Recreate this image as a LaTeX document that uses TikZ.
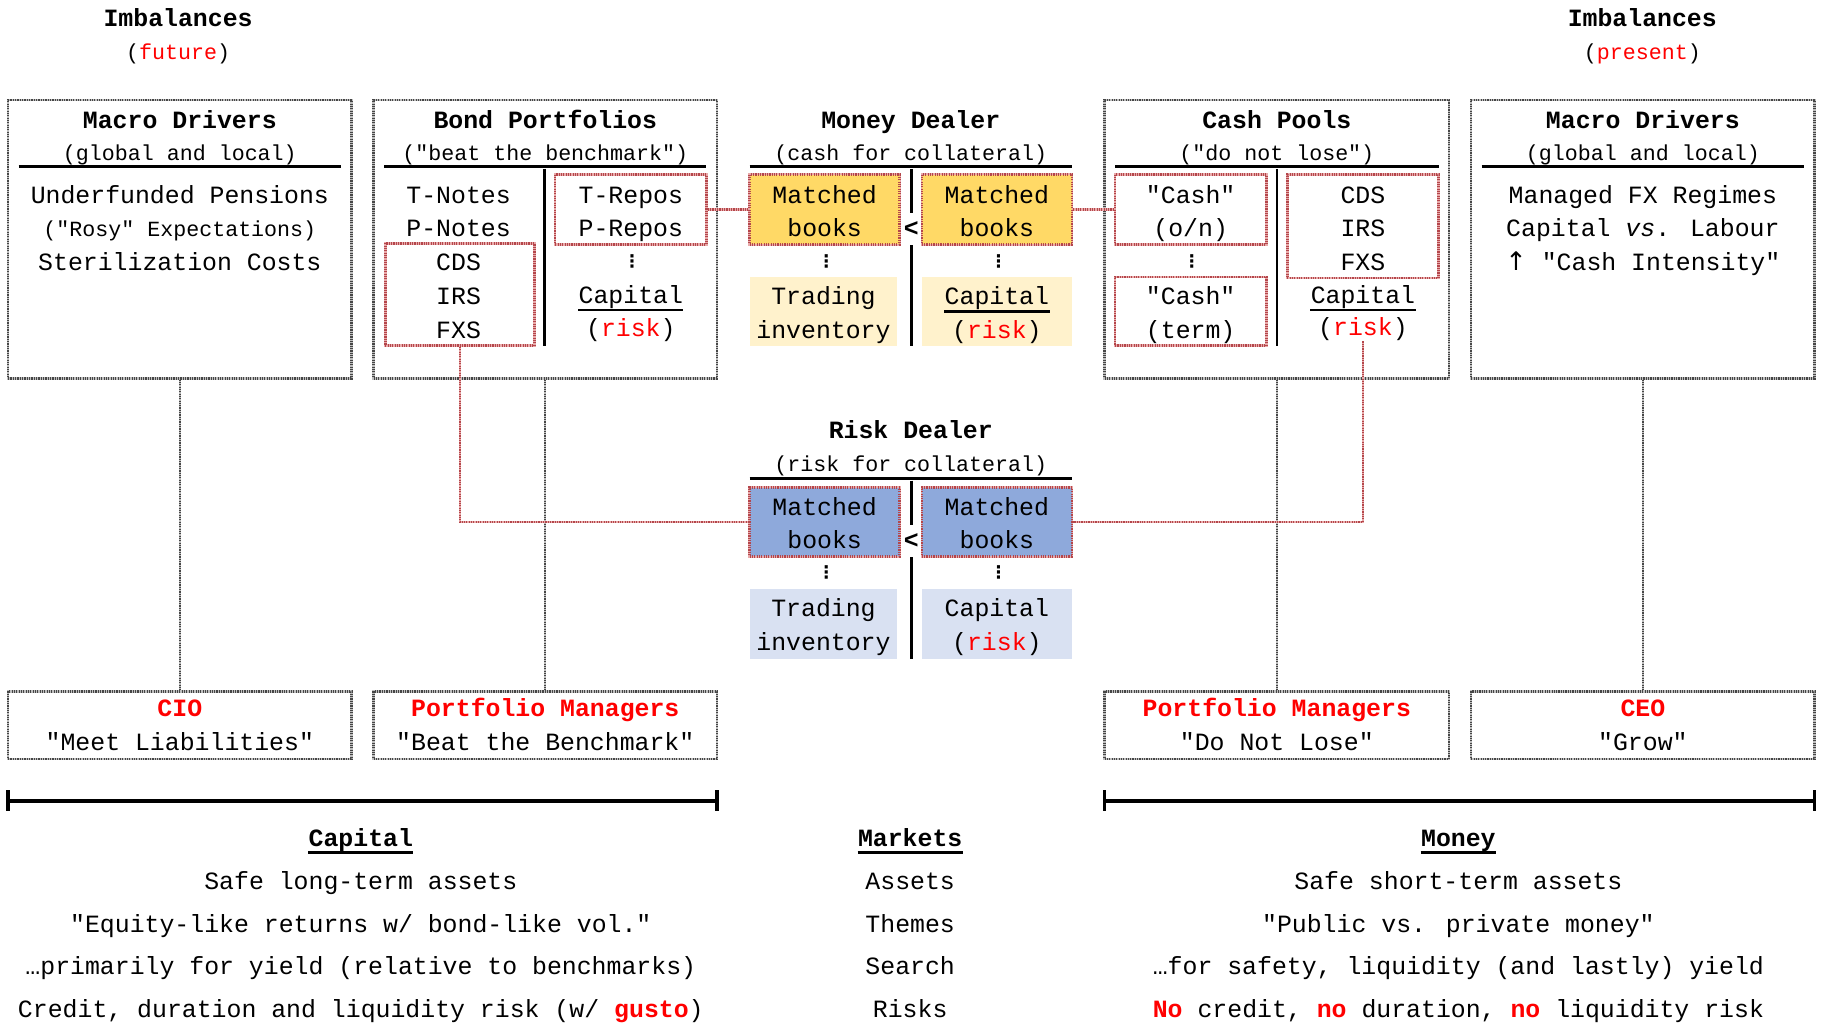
\documentclass[tikz,border=0pt]{standalone}
\usepackage{fontspec}
\setmainfont{Liberation Mono}[Ligatures=TeXOff]
\newfontfamily\dejavu{DejaVu Sans}
\definecolor{ttred}{RGB}{255,0,0}
\definecolor{bxred}{RGB}{180,70,75}
\definecolor{bxpink}{RGB}{232,170,170}
\definecolor{gdark}{RGB}{70,70,70}
\definecolor{glight}{RGB}{190,190,190}
\definecolor{ydark}{RGB}{255,217,102}
\definecolor{ylight}{RGB}{255,242,204}
\definecolor{bdark}{RGB}{142,169,219}
\definecolor{blight}{RGB}{217,225,242}
\newcommand\mfnt{\fontsize{10.67}{13}\selectfont}
\newcommand\sfnt{\fontsize{9.3}{11}\selectfont}
\newcommand\rd[1]{\textcolor{ttred}{#1}}
\newcommand\rb[1]{\textcolor{ttred}{\bfseries #1}}
\tikzset{
  txt/.style={anchor=base, inner sep=0pt, font=\mfnt},
  sub/.style={anchor=base, inner sep=0pt, font=\sfnt},
  ttl/.style={anchor=base, inner sep=0pt, font=\mfnt\bfseries},
  rttl/.style={ttl, text=ttred},
  vdot/.style={inner sep=0pt, font=\dejavu\bfseries\fontsize{7.5}{8}\selectfont},
  lt/.style={inner xsep=0pt, inner ysep=3.5pt, font=\mfnt\bfseries},
  sz/.style 2 args={minimum width=#1*0.5pt, minimum height=#2*0.5pt},
  gbox/.style={draw=gdark, line width=1.1pt, dash pattern=on 0.5pt off 0.5pt,
    preaction={draw=glight, line width=1.1pt, solid}, inner sep=0pt},
  rbox/.style={draw=bxred, line width=1.1pt, dash pattern=on 0.5pt off 0.5pt,
    preaction={draw=bxpink, line width=1.1pt, solid}, inner sep=0pt},
  fbox/.style={inner sep=0pt},
  gline/.style={draw=gdark, line width=0.9pt, dash pattern=on 0.5pt off 0.5pt,
    preaction={draw=glight, line width=0.9pt, solid}},
  rline/.style={draw=bxred, line width=0.9pt, dash pattern=on 0.5pt off 0.5pt,
    preaction={draw=bxpink, line width=0.9pt, solid}},
  rulel/.style={line width=1.3pt},
  divl/.style={line width=1.1pt},
  uline/.style={line width=1pt},
  brk/.style={line width=1.5pt}
}
\begin{document}
\begin{tikzpicture}[x=0.5pt,y=-0.5pt]
\useasboundingbox (0,0) rectangle (1568,879);

% ---------- headers
\node[ttl] (imbL) at (153,22.5) {Imbalances};
\node[sub] (futL) at (153,51) {(\rd{future})};
\node[ttl] (imbR) at (1411,22.5) {Imbalances};
\node[sub] (preR) at (1411,51) {(\rd{present})};

% ---------- big boxes
\node[gbox, sz={295}{239}] (macroL) at (154.5,205.5) {};
\node[gbox, sz={295}{239}] (bond)   at (468.5,205.5) {};
\node[gbox, sz={296}{239}] (cash)   at (1097,205.5) {};
\node[gbox, sz={295}{239}] (macroR) at (1411.5,205.5) {};

% ---------- bottom role boxes
\node[gbox, sz={295}{58}] (cio) at (154.5,623) {};
\node[gbox, sz={295}{58}] (pmA) at (468.5,623) {};
\node[gbox, sz={296}{58}] (pmB) at (1097,623) {};
\node[gbox, sz={295}{58}] (ceo) at (1411.5,623) {};

% ---------- gray connectors
\draw[gline] (macroL.south) -- (cio.north);
\draw[gline] (bond.south) -- (pmA.north);
\draw[gline] (cash.south) -- (pmB.north);
\draw[gline] (macroR.south) -- (ceo.north);

% ---------- Macro Drivers (left)
\node[ttl] (mlT) at (154.5,110) {Macro Drivers};
\node[sub] (mlS) at (154.5,137.5) {(global and local)};
\draw[rulel] (16,143) -- (293,143);
\node[txt] (ml1) at (154.5,174.5) {Underfunded Pensions};
\node[sub] (ml2) at (154.5,203.5) {("Rosy" Expectations)};
\node[txt] (ml3) at (154.5,232.5) {Sterilization Costs};

% ---------- Bond Portfolios
\node[ttl] (bpT) at (468.5,110) {Bond Portfolios};
\node[sub] (bpS) at (468.5,137.5) {("beat the benchmark")};
\draw[rulel] (330,143) -- (607,143);
\draw[divl] (468,145) -- (468,297);
\node[rbox, sz={130}{60}] (bRepo) at (542,180) {};
\node[rbox, sz={128}{88}] (bCDS) at (395,253) {};
\node[txt] (bp1) at (394,174.5) {T-Notes};
\node[txt] (bp2) at (394,203.5) {P-Notes};
\node[txt] (bp3) at (394,232.5) {CDS};
\node[txt] (bp4) at (394,261.5) {IRS};
\node[txt] (bp5) at (394,290.5) {FXS};
\node[txt] (bp6) at (542,174.5) {T-Repos};
\node[txt] (bp7) at (542,203.5) {P-Repos};
\node[vdot] (bp8) at (543,224.5) {⋮};
\node[txt] (bCap) at (542,260.5) {Capital};
\draw[uline] ([yshift=-3pt]bCap.base west) -- ([yshift=-3pt]bCap.base east);
\node[txt] (bRisk) at (542,289.5) {(\rd{risk})};

% ---------- Money Dealer
\node[ttl] (mdT) at (782.5,110) {Money Dealer};
\node[sub] (mdS) at (782.5,137.5) {(cash for collateral)};
\draw[rulel] (644,143) -- (921,143);
\node[lt] (ltA) at (783,197) {<};
\draw[divl] (783,145) -- (ltA.north);
\draw[divl] (ltA.south) -- (783,297);
\node[rbox, fill=ydark, sz={129}{60}] (mdL) at (708.5,180) {};
\node[rbox, fill=ydark, sz={129}{60}] (mdR) at (856.5,180) {};
\node[fbox, fill=ylight, sz={127}{59}] (mdTI) at (707.5,267.5) {};
\node[fbox, fill=ylight, sz={129}{59}] (mdCp) at (856.5,267.5) {};
\node[txt] (md1) at (708.5,174.5) {Matched};
\node[txt] (md2) at (708.5,203.5) {books};
\node[txt] (md3) at (856.5,174.5) {Matched};
\node[txt] (md4) at (856.5,203.5) {books};
\node[vdot] (md5) at (710,224.5) {⋮};
\node[vdot] (md6) at (858,224.5) {⋮};
\node[txt] (md7) at (707.5,261.5) {Trading};
\node[txt] (md8) at (707.5,290.5) {inventory};
\node[txt] (mdCap) at (856.5,261.5) {Capital};
\draw[uline] ([yshift=-3pt]mdCap.base west) -- ([yshift=-3pt]mdCap.base east);
\node[txt] (md9) at (856.5,290.5) {(\rd{risk})};

% ---------- Cash Pools
\node[ttl] (cpT) at (1097,110) {Cash Pools};
\node[sub] (cpS) at (1097,137.5) {("do not lose")};
\draw[rulel] (958,143) -- (1236,143);
\draw[divl] (1097,145) -- (1097,297);
\node[rbox, sz={130}{60}] (cON) at (1023,180) {};
\node[rbox, sz={130}{59}] (cTerm) at (1023,267.5) {};
\node[rbox, sz={130}{89}] (cCDS) at (1171,194.5) {};
\node[txt] (cp1) at (1023,174.5) {"Cash"};
\node[txt] (cp2) at (1023,203.5) {(o/n)};
\node[vdot] (cp3) at (1024,224.5) {⋮};
\node[txt] (cp4) at (1023,261.5) {"Cash"};
\node[txt] (cp5) at (1023,290.5) {(term)};
\node[txt] (cp6) at (1171,174.5) {CDS};
\node[txt] (cp7) at (1171,203.5) {IRS};
\node[txt] (cp8) at (1171,232.5) {FXS};
\node[txt] (cCap) at (1171,260.5) {Capital};
\draw[uline] ([yshift=-3pt]cCap.base west) -- ([yshift=-3pt]cCap.base east);
\node[txt] (cRisk) at (1171,288.5) {(\rd{risk})};

% ---------- Macro Drivers (right)
\node[ttl] (mrT) at (1411.5,110) {Macro Drivers};
\node[sub] (mrS) at (1411.5,137.5) {(global and local)};
\draw[rulel] (1273,143) -- (1550,143);
\node[txt] (mr1) at (1411.5,174.5) {Managed FX Regimes};
\node[txt] (mr2) at (1411.5,203.5) {Capital \textit{vs}. Labour};
\node[txt] (mr3) at (1411.5,232.5) {{\dejavu\fontsize{11}{13}\selectfont ↑} "Cash Intensity"};

% ---------- Risk Dealer
\node[ttl] (rdT) at (782.5,377) {Risk Dealer};
\node[sub] (rdS) at (782.5,405.5) {(risk for collateral)};
\draw[rulel] (644,411) -- (921,411);
\node[lt] (ltB) at (783,465) {<};
\draw[divl] (783,413) -- (ltB.north);
\draw[divl] (ltB.south) -- (783,566);
\node[rbox, fill=bdark, sz={129}{59}] (rdL) at (708.5,448.5) {};
\node[rbox, fill=bdark, sz={129}{59}] (rdR) at (856.5,448.5) {};
\node[fbox, fill=blight, sz={127}{60}] (rdTI) at (707.5,536) {};
\node[fbox, fill=blight, sz={129}{60}] (rdCp) at (856.5,536) {};
\node[txt] (rd1) at (708.5,443) {Matched};
\node[txt] (rd2) at (708.5,471.5) {books};
\node[txt] (rd3) at (856.5,443) {Matched};
\node[txt] (rd4) at (856.5,471.5) {books};
\node[vdot] (rd5) at (710,491.5) {⋮};
\node[vdot] (rd6) at (858,491.5) {⋮};
\node[txt] (rd7) at (707.5,529.5) {Trading};
\node[txt] (rd8) at (707.5,558.5) {inventory};
\node[txt] (rd9) at (856.5,529.5) {Capital};
\node[txt] (rd10) at (856.5,558.5) {(\rd{risk})};

% ---------- red connectors
\draw[rline] (bRepo.east) -- (mdL.west);
\draw[rline] (mdR.east) -- (cON.west);
\draw[rline] (bCDS.south) |- (rdL.west);
\draw[rline] (cRisk.south) |- (rdR.east);

% ---------- role box texts
\node[rttl] (cio1) at (154.5,615.5) {CIO};
\node[txt] (cio2) at (154.5,644.5) {"Meet Liabilities"};
\node[rttl] (pmA1) at (468.5,615.5) {Portfolio Managers};
\node[txt] (pmA2) at (468.5,644.5) {"Beat the Benchmark"};
\node[rttl] (pmB1) at (1097,615.5) {Portfolio Managers};
\node[txt] (pmB2) at (1097,644.5) {"Do Not Lose"};
\node[rttl] (ceo1) at (1411.5,615.5) {CEO};
\node[txt] (ceo2) at (1411.5,644.5) {"Grow"};

% ---------- brackets
\coordinate (bLa) at (7,688);
\coordinate (bLb) at (616,688);
\coordinate (bRa) at (949,688);
\coordinate (bRb) at (1559,688);
\draw[brk] (bLa) -- (bLb);
\draw[brk] ([yshift=4.5pt]bLa) -- ([yshift=-4.5pt]bLa);
\draw[brk] ([yshift=4.5pt]bLb) -- ([yshift=-4.5pt]bLb);
\draw[brk] (bRa) -- (bRb);
\draw[brk] ([yshift=4.5pt]bRa) -- ([yshift=-4.5pt]bRa);
\draw[brk] ([yshift=4.5pt]bRb) -- ([yshift=-4.5pt]bRb);

% ---------- bottom text: Capital
\node[ttl] (capH) at (310,727.5) {Capital};
\draw[uline, line width=1.2pt] ([yshift=-2.5pt]capH.base west) -- ([yshift=-2.5pt]capH.base east);
\node[txt] (cap1) at (310,764) {Safe long-term assets};
\node[txt] (cap2) at (310,801) {"Equity-like returns w/ bond-like vol."};
\node[txt] (cap3) at (310,837.5) {…primarily for yield (relative to benchmarks)};
\node[txt] (cap4) at (310,874) {Credit, duration and liquidity risk (w/ \rb{gusto})};

% ---------- bottom text: Markets
\node[ttl] (mkH) at (782,727.5) {Markets};
\draw[uline, line width=1.2pt] ([yshift=-2.5pt]mkH.base west) -- ([yshift=-2.5pt]mkH.base east);
\node[txt] (mk1) at (782,764) {Assets};
\node[txt] (mk2) at (782,801) {Themes};
\node[txt] (mk3) at (782,837.5) {Search};
\node[txt] (mk4) at (782,874) {Risks};

% ---------- bottom text: Money
\node[ttl] (moH) at (1253,727.5) {Money};
\draw[uline, line width=1.2pt] ([yshift=-2.5pt]moH.base west) -- ([yshift=-2.5pt]moH.base east);
\node[txt] (mo1) at (1253,764) {Safe short-term assets};
\node[txt] (mo2) at (1253,801) {"Public vs. private money"};
\node[txt] (mo3) at (1253,837.5) {…for safety, liquidity (and lastly) yield};
\node[txt] (mo4) at (1253,874) {\rb{No} credit, \rb{no} duration, \rb{no} liquidity risk};
\end{tikzpicture}
\end{document}
